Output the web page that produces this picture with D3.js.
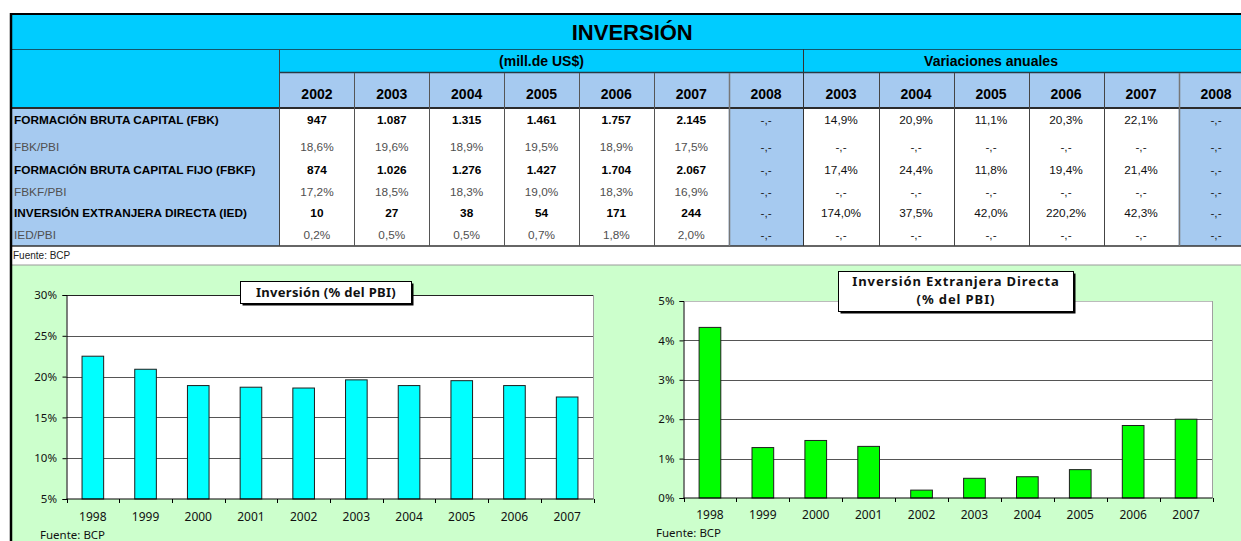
<!DOCTYPE html>
<html><head><meta charset="utf-8">
<script src="https://cdn.jsdelivr.net/npm/d3@7"></script>
<style>body{margin:0;background:#fff}svg{display:block}</style>
</head><body>
<svg id="c" width="1241" height="541"></svg>
<script>
// ---------------- DATA ----------------
const title = "INVERSIÓN";
const groupLabels = ["(mill.de US$)", "Variaciones anuales"];
const levelYears = ["2002","2003","2004","2005","2006","2007","2008"];
const varYears = ["2003","2004","2005","2006","2007","2008"];
const rowLabels = [
  "FORMACIÓN BRUTA CAPITAL (FBK)",
  "FBK/PBI",
  "FORMACIÓN BRUTA CAPITAL FIJO (FBKF)",
  "FBKF/PBI",
  "INVERSIÓN EXTRANJERA DIRECTA (IED)",
  "IED/PBI"
];
const rowBold = [true, false, true, false, true, false];
const levelValues = [
  ["947","1.087","1.315","1.461","1.757","2.145","-,-"],
  ["18,6%","19,6%","18,9%","19,5%","18,9%","17,5%","-,-"],
  ["874","1.026","1.276","1.427","1.704","2.067","-,-"],
  ["17,2%","18,5%","18,3%","19,0%","18,3%","16,9%","-,-"],
  ["10","27","38","54","171","244","-,-"],
  ["0,2%","0,5%","0,5%","0,7%","1,8%","2,0%","-,-"]
];
const varValues = [
  ["14,9%","20,9%","11,1%","20,3%","22,1%","-,-"],
  ["-,-","-,-","-,-","-,-","-,-","-,-"],
  ["17,4%","24,4%","11,8%","19,4%","21,4%","-,-"],
  ["-,-","-,-","-,-","-,-","-,-","-,-"],
  ["174,0%","37,5%","42,0%","220,2%","42,3%","-,-"],
  ["-,-","-,-","-,-","-,-","-,-","-,-"]
];
const sourceText = "Fuente: BCP";
const chartYears = ["1998","1999","2000","2001","2002","2003","2004","2005","2006","2007"];
const invTitle = ["Inversión (% del PBI)"];
const invValues = [22.5, 20.9, 18.9, 18.7, 18.6, 19.6, 18.9, 19.5, 18.9, 17.5];
const invTicks = [5, 10, 15, 20, 25, 30];
const iedTitle = ["Inversión Extranjera Directa", "(% del PBI)"];
const iedValues = [4.33, 1.28, 1.46, 1.31, 0.2, 0.5, 0.54, 0.72, 1.84, 2.0];
const iedTicks = [0, 1, 2, 3, 4, 5];

// ---------------- LAYOUT ----------------
const W = 1241, H = 541;
const svg = d3.select("#c");
const tFont = "'Liberation Sans', Arial, sans-serif";
const cFont = "'Noto Sans', 'DejaVu Sans', sans-serif";
const CYAN = "#00CCFF", LB = "#A6CAF0", GBG = "#CCFFCC";
const L = 11, labelR = 279.5, split = 803.5, tableR = 1253.5;
const xLev = d3.scaleBand().domain(levelYears).range([labelR, split]);
const xVar = d3.scaleBand().domain(varYears).range([split, tableR]);
const rowH = [26, 25, 22, 21, 22, 22];
const rowTop = Array.from(d3.cumsum([108, ...rowH]));
const tableBottom = rowTop[rowTop.length - 1];

function rect(x, y, w, h, fill) {
  svg.append("rect").attr("x", x).attr("y", y).attr("width", w).attr("height", h).attr("fill", fill);
}
function line(x1, y1, x2, y2, stroke, sw) {
  svg.append("line").attr("x1", x1).attr("y1", y1).attr("x2", x2).attr("y2", y2)
    .attr("stroke", stroke).attr("stroke-width", sw || 1);
}

// backgrounds
rect(L, 15, W - L, 34, CYAN);
rect(L, 49, W - L, 24, CYAN);
rect(L, 73, labelR - L, 35, CYAN);
rect(labelR, 73, W - labelR, 35, LB);
rect(L, 108, labelR - L, tableBottom - 108, LB);
rect(labelR, 108, W - labelR, tableBottom - 108, "#fff");
rect(xLev("2008"), 108, xLev.bandwidth(), tableBottom - 108, LB);
rect(xVar("2008"), 108, xVar.bandwidth(), tableBottom - 108, LB);
rect(L, tableBottom, W - L, 265 - tableBottom, "#fff");
rect(L, 265, W - L, H - 265, GBG);

// table lines
line(L, 49.5, W, 49.5, "#13566b", 1);
line(labelR, 72.5, W, 72.5, "#2a3a44", 1.5);
line(L, 108, W, 108, "#2b2b2b", 2);
line(L, tableBottom, W, tableBottom, "#333", 1.5);
line(L, 265, W, 265, "#9a9a9a", 1);
line(labelR, 49, labelR, tableBottom, "#444", 1);
line(split, 49, split, tableBottom, "#333", 1);
levelYears.slice(1).forEach(y => {
  const x = Math.round(xLev(y)) + 0.5;
  line(x, 73, x, tableBottom, y === "2008" ? "#777" : "#555", y === "2008" ? 1.5 : 1);
});
varYears.slice(1).forEach(y => {
  const x = Math.round(xVar(y)) + 0.5;
  line(x, 73, x, tableBottom, y === "2008" ? "#777" : "#444", y === "2008" ? 1.5 : 1);
});
// outer border
line(10, 14, W, 14, "#000", 2);
line(11, 13, 11, H, "#000", 2.5);

// title
svg.append("text").attr("x", (L + tableR) / 2).attr("y", 40)
  .attr("text-anchor", "middle").attr("font-family", tFont).attr("font-weight", "bold")
  .attr("font-size", 22).text(title);
// group labels
svg.append("text").attr("x", (labelR + split) / 2).attr("y", 66)
  .attr("text-anchor", "middle").attr("font-family", tFont).attr("font-weight", "bold")
  .attr("font-size", 14).text(groupLabels[0]);
svg.append("text").attr("x", (xVar("2003") + xVar("2007") + xVar.bandwidth()) / 2).attr("y", 66)
  .attr("text-anchor", "middle").attr("font-family", tFont).attr("font-weight", "bold")
  .attr("font-size", 14).text(groupLabels[1]);
// year headers
svg.selectAll(".ly").data(levelYears).enter().append("text")
  .attr("x", d => xLev(d) + xLev.bandwidth() / 2).attr("y", 99)
  .attr("text-anchor", "middle").attr("font-family", tFont).attr("font-weight", "bold")
  .attr("font-size", 14).text(d => d);
svg.selectAll(".vy").data(varYears).enter().append("text")
  .attr("x", d => xVar(d) + xVar.bandwidth() / 2).attr("y", 99)
  .attr("text-anchor", "middle").attr("font-family", tFont).attr("font-weight", "bold")
  .attr("font-size", 14).text(d => d);

// rows
rowLabels.forEach((lab, i) => {
  const cy = (rowTop[i] + rowTop[i + 1]) / 2 + (i === 0 ? -1 : 0);
  const bold = rowBold[i];
  const col = bold ? "#000" : "#505050";
  const g = svg.append("g").attr("font-family", tFont).attr("font-size", 11.8)
    .attr("font-weight", bold ? "bold" : "normal").attr("fill", col);
  g.append("text").attr("x", 14).attr("y", cy + 4).text(lab);
  levelValues[i].forEach((v, j) => {
    g.append("text").attr("x", xLev(levelYears[j]) + xLev.bandwidth() / 2).attr("y", cy + 4)
      .attr("text-anchor", "middle").attr("fill", v === "-,-" ? "#222" : col)
      .attr("font-weight", v === "-,-" ? "normal" : null).text(v);
  });
  varValues[i].forEach((v, j) => {
    g.append("text").attr("x", xVar(varYears[j]) + xVar.bandwidth() / 2).attr("y", cy + 4)
      .attr("text-anchor", "middle").attr("fill", v === "-,-" ? "#222" : "#111")
      .attr("font-weight", "normal").text(v);
  });
});
svg.append("text").attr("x", 13).attr("y", 259).attr("font-family", tFont)
  .attr("font-size", 10).attr("fill", "#222").text(sourceText);

// ---------------- CHARTS ----------------
function chart(cfg) {
  const x = d3.scaleBand().domain(chartYears).range([cfg.x0, cfg.x1])
    .paddingInner(0.59).paddingOuter(0.295);
  const y = d3.scaleLinear().domain(cfg.domain).range([cfg.yb, cfg.yt]);
  const g = svg.append("g");
  g.append("rect").attr("x", cfg.x0).attr("y", cfg.yt).attr("width", cfg.x1 - cfg.x0)
    .attr("height", cfg.yb - cfg.yt).attr("fill", "#fff");
  // grid
  cfg.ticks.filter(t => t !== cfg.domain[0]).forEach(t => {
    const yy = Math.round(y(t)) + 0.5;
    g.append("line").attr("x1", cfg.x0).attr("x2", cfg.x1).attr("y1", yy).attr("y2", yy)
      .attr("stroke", t === cfg.domain[1] ? cfg.topColor : "#555").attr("stroke-width", 1);
  });
  // right border
  g.append("line").attr("x1", cfg.x1).attr("x2", cfg.x1).attr("y1", cfg.yt).attr("y2", cfg.yb)
    .attr("stroke", "#a0a0a0");
  // bars
  g.selectAll(".bar").data(cfg.values).enter().append("rect")
    .attr("x", (d, i) => x(chartYears[i]))
    .attr("y", d => y(d))
    .attr("width", x.bandwidth())
    .attr("height", d => cfg.yb - y(d))
    .attr("fill", cfg.fill).attr("stroke", "#1e1e1e").attr("stroke-width", 1);
  // y axis
  const ya = d3.axisLeft(y).tickValues(cfg.ticks).tickSize(4).tickPadding(cfg.tpad)
    .tickFormat(d => d + "%");
  const yg = g.append("g").attr("transform", `translate(${cfg.x0},0)`).call(ya);
  yg.select(".domain").attr("stroke", "#000");
  yg.selectAll(".tick line").attr("stroke", "#000");
  yg.selectAll("text").attr("font-family", cFont).attr("font-size", 11.5).attr("fill", "#111");
  // x axis
  const xa = d3.axisBottom(x).tickSize(0).tickPadding(cfg.xpad);
  const xg = g.append("g").attr("transform", `translate(0,${cfg.yb})`).call(xa);
  xg.select(".domain").remove();
  xg.selectAll("text").attr("font-family", cFont).attr("font-size", 12).attr("fill", "#111");
  g.append("line").attr("x1", cfg.x0).attr("x2", cfg.x1).attr("y1", cfg.yb).attr("y2", cfg.yb)
    .attr("stroke", "#000");
  d3.range(chartYears.length + 1).forEach(i => {
    const xx = Math.round(cfg.x0 + i * x.step()) + 0.5;
    g.append("line").attr("x1", xx).attr("x2", xx).attr("y1", cfg.yb).attr("y2", cfg.yb + 4)
      .attr("stroke", "#000");
  });
  // title box
  const b = cfg.box;
  g.append("rect").attr("x", b.x + 2).attr("y", b.y + 2).attr("width", b.w).attr("height", b.h)
    .attr("fill", "#000");
  g.append("rect").attr("x", b.x).attr("y", b.y).attr("width", b.w).attr("height", b.h)
    .attr("fill", "#fff").attr("stroke", "#000").attr("stroke-width", 1);
  cfg.title.forEach((t, i) => {
    g.append("text").attr("x", b.x + b.w / 2).attr("y", b.ty + i * 18)
      .attr("text-anchor", "middle").attr("font-family", cFont).attr("font-weight", "bold")
      .attr("font-size", 13).attr("letter-spacing", cfg.ls).attr("fill", "#111").text(t);
  });
  // source
  g.append("text").attr("x", cfg.sx).attr("y", cfg.sy).attr("font-family", cFont)
    .attr("font-size", 11.5).attr("fill", "#111").text(sourceText);
}

chart({
  values: invValues, ticks: invTicks, domain: [5, 30], fill: "#00FFFF",
  x0: 66.5, x1: 593.5, yt: 295, yb: 499, tpad: 5.5, xpad: 13, topColor: "#222",
  box: {x: 240.5, y: 281.5, w: 171, h: 22, ty: 297}, title: invTitle, ls: 0.3,
  sx: 40, sy: 539
});
chart({
  values: iedValues, ticks: iedTicks, domain: [0, 5], fill: "#00FF00",
  x0: 683.5, x1: 1212.5, yt: 301, yb: 498, tpad: 5, xpad: 12, topColor: "#bbb",
  box: {x: 838.5, y: 271.5, w: 235, h: 40, ty: 286}, title: iedTitle, ls: 0.9,
  sx: 656, sy: 537
});
</script>
</body></html>
